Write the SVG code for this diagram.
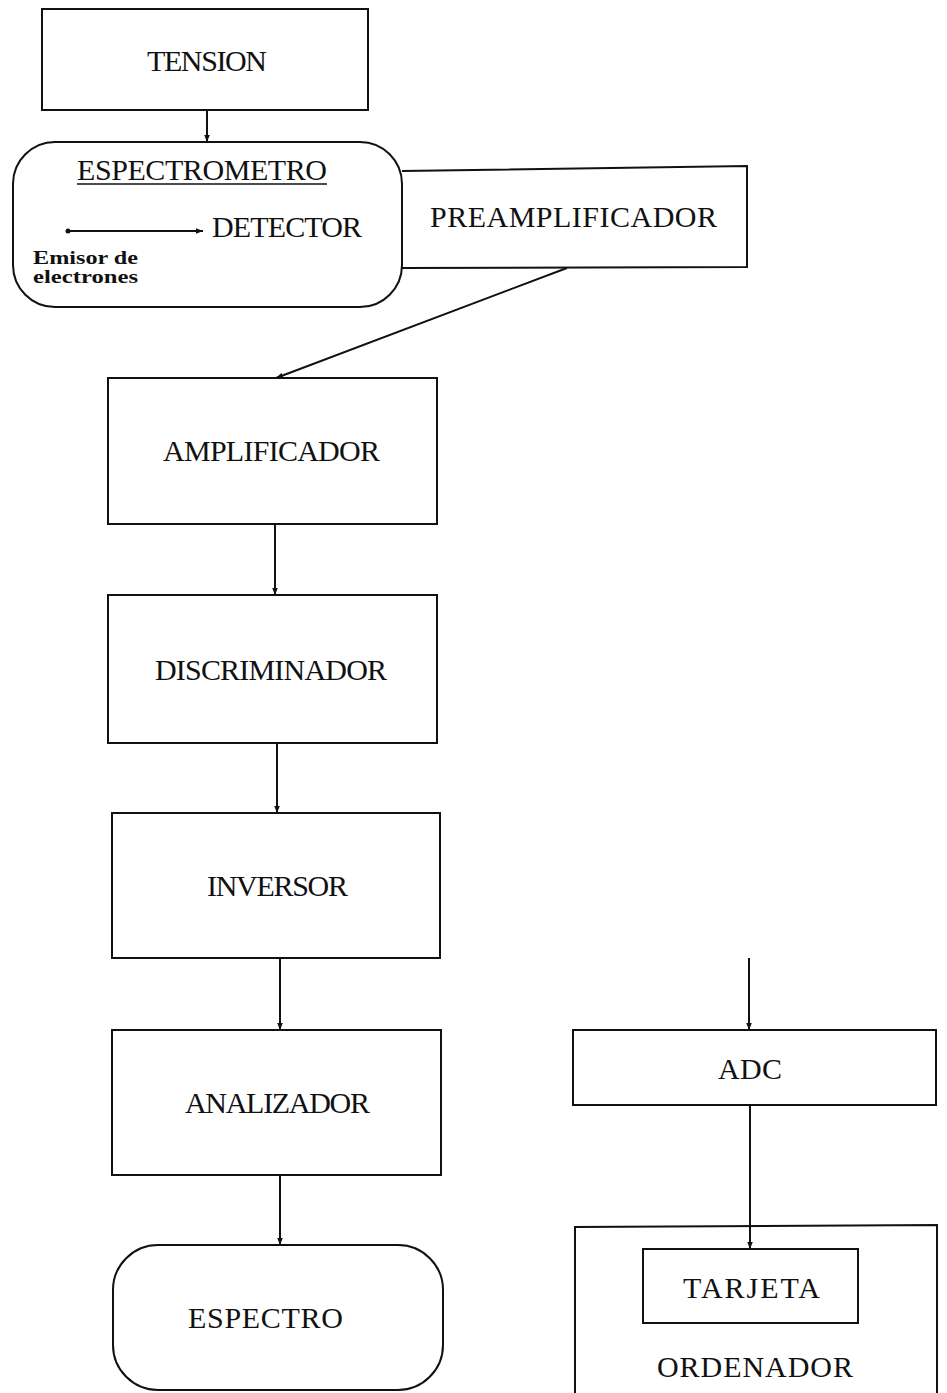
<svg xmlns="http://www.w3.org/2000/svg" width="947" height="1393" viewBox="0 0 947 1393">
<style>
.box{fill:none;stroke:#111;stroke-width:2}
.lbl{font-family:"Liberation Serif",serif;font-size:30px;fill:#111}
.small{font-family:"Liberation Serif",serif;font-size:18px;font-weight:bold;fill:#111}
.con{stroke:#111;stroke-width:2;fill:none}
</style>
<defs>
<marker id="ah" viewBox="0 0 10 10" refX="10" refY="5" markerWidth="7" markerHeight="7" orient="auto" markerUnits="userSpaceOnUse">
<path d="M0,1 L10,5 L0,9 z" fill="#111"/>
</marker>
</defs>
<rect width="947" height="1393" fill="#fff"/>
<g id="tension">
<rect class="box" x="42" y="9" width="326" height="101"/>
<text class="lbl" x="147" y="71" textLength="120">TENSION</text>
</g>
<g id="espectrometro">
<rect class="box" x="13" y="142" width="389" height="165" rx="42" ry="42"/>
<text class="lbl" x="77" y="180" textLength="250">ESPECTROMETRO</text>
<line x1="77" y1="184" x2="327" y2="184" stroke="#111" stroke-width="1.5"/>
<text class="lbl" x="212" y="237" textLength="150">DETECTOR</text>
<text class="small" x="33" y="264" textLength="105" lengthAdjust="spacingAndGlyphs">Emisor de</text>
<text class="small" x="33" y="283" textLength="105" lengthAdjust="spacingAndGlyphs">electrones</text>
</g>
<g id="preamplificador">
<polyline class="box" points="402,171 747,166 747,267 402,268"/>
<text class="lbl" x="430" y="227" textLength="287">PREAMPLIFICADOR</text>
</g>
<g id="amplificador">
<rect class="box" x="108" y="378" width="329" height="146"/>
<text class="lbl" x="163" y="461" textLength="217">AMPLIFICADOR</text>
</g>
<g id="discriminador">
<rect class="box" x="108" y="595" width="329" height="148"/>
<text class="lbl" x="155" y="680" textLength="232">DISCRIMINADOR</text>
</g>
<g id="inversor">
<rect class="box" x="112" y="813" width="328" height="145"/>
<text class="lbl" x="207" y="896" textLength="141">INVERSOR</text>
</g>
<g id="analizador">
<rect class="box" x="112" y="1030" width="329" height="145"/>
<text class="lbl" x="185" y="1113" textLength="185">ANALIZADOR</text>
</g>
<g id="espectro">
<rect class="box" x="113" y="1245" width="330" height="145" rx="45" ry="45"/>
<text class="lbl" x="188" y="1328" textLength="155">ESPECTRO</text>
</g>
<g id="adc">
<rect class="box" x="573" y="1030" width="363" height="75"/>
<text class="lbl" x="718" y="1079" textLength="64">ADC</text>
</g>
<g id="ordenador">
<polyline class="box" points="575,1400 575,1227 937,1225 937,1400"/>
<text class="lbl" x="657" y="1377" textLength="196">ORDENADOR</text>
</g>
<g id="tarjeta">
<rect class="box" x="643" y="1249" width="215" height="74"/>
<text class="lbl" x="683" y="1298" textLength="137">TARJETA</text>
</g>
<g id="connectors">
<line class="con" x1="207" y1="110" x2="207" y2="142" marker-end="url(#ah)"/>
<line class="con" x1="68" y1="231" x2="203" y2="231" marker-end="url(#ah)"/>
<circle cx="68" cy="231" r="2.5" fill="#111"/>
<line class="con" x1="567" y1="268" x2="276" y2="378" marker-end="url(#ah)"/>
<line class="con" x1="275" y1="524" x2="275" y2="595" marker-end="url(#ah)"/>
<line class="con" x1="277" y1="743" x2="277" y2="813" marker-end="url(#ah)"/>
<line class="con" x1="280" y1="958" x2="280" y2="1030" marker-end="url(#ah)"/>
<line class="con" x1="280" y1="1175" x2="280" y2="1245" marker-end="url(#ah)"/>
<line class="con" x1="749" y1="958" x2="749" y2="1030" marker-end="url(#ah)"/>
<line class="con" x1="750" y1="1105" x2="750" y2="1249" marker-end="url(#ah)"/>
</g>
</svg>
